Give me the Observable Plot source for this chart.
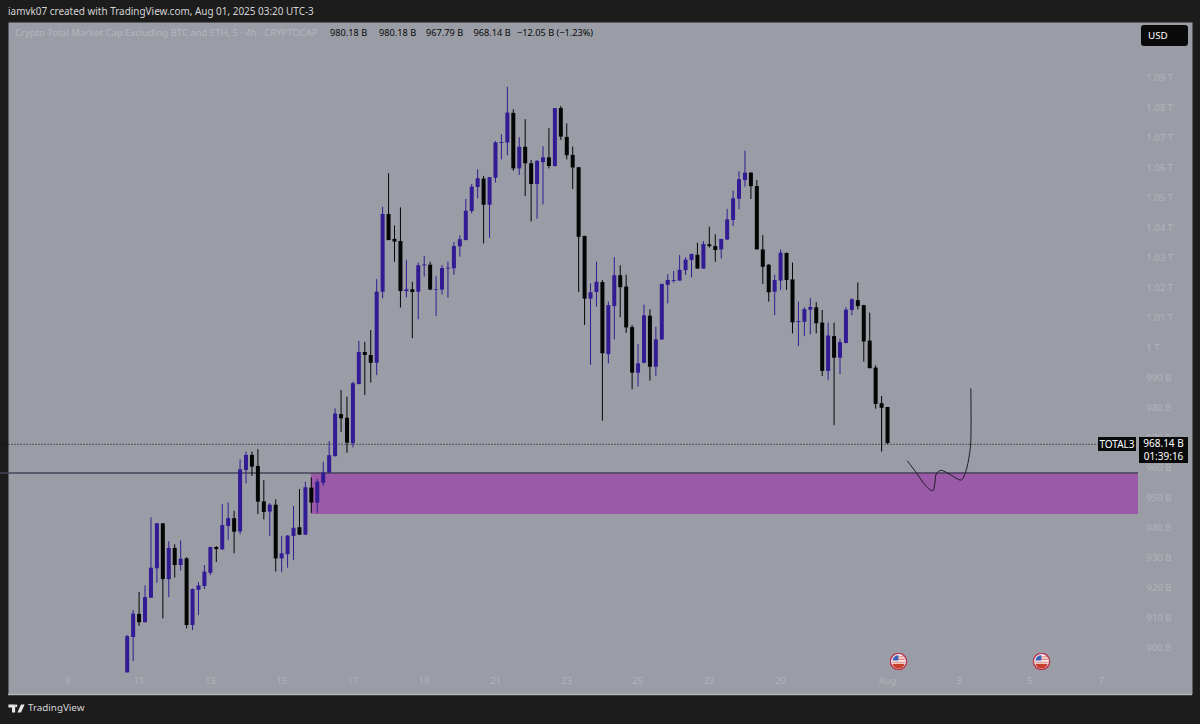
<!DOCTYPE html>
<html>
<head>
<meta charset="utf-8">
<script src="https://cdn.jsdelivr.net/npm/d3@7"></script>
<script src="https://cdn.jsdelivr.net/npm/@observablehq/plot@0.6"></script>
<style>
html,body{margin:0;padding:0;background:#1c1c1c;width:1200px;height:724px;overflow:hidden}
#wrap{position:relative;width:1200px;height:724px;font-family:"Noto Sans",sans-serif}
#wrap svg{display:block}
.t{position:absolute;white-space:nowrap;line-height:1}
.tag{position:absolute;background:#0a0a0a;color:#fff;font-size:10px;text-align:center;box-sizing:border-box}
</style>
</head>
<body>
<div id="wrap"></div>
<script>
const opens=[891.7,903.5,911.2,908.4,916.6,926.4,941.4,922.8,933.2,927.5,929.7,907.5,919.2,920.5,924.9,933.5,932.7,940.5,943.1,938.7,959.2,964.2,960.5,948.7,945.3,947.6,929.7,931.1,937.2,940.1,937.6,953.3,948.3,954.9,958.3,963.8,977.8,976.6,968.1,987.8,998.5,997.5,994.9,1018.6,1044.5,1036.2,1035.5,1018.8,1019.4,1018.6,1027.4,1027.6,1019.3,1019.3,1026.3,1026.4,1033.7,1035.8,1045.5,1053.5,1056.3,1047.6,1056.6,1068.2,1068.3,1078.2,1059.7,1066.9,1061.4,1054.5,1061.8,1063.4,1060.5,1079.8,1070.2,1064.2,1060.1,1037.2,1016.3,1018.5,1021.8,997.8,1013.8,1024.1,1020.3,1006.8,991.6,994.9,1010.6,993.6,1002.7,1020.9,1022.2,1022.3,1025.8,1029.2,1030.9,1026.3,1034.4,1033.8,1032.7,1036.0,1042.5,1049.6,1055.8,1058.3,1053.8,1032.7,1027.6,1018.6,1022.3,1031.5,1022.7,1008.5,1008.6,1012.6,1013.4,1008.3,992.2,1003.8,996.6,1001.5,1012.5,1015.8,1014.1,1002.3,993.3,981.4,980.18];
const highs=[904.2,912.5,918.5,920.7,943.4,941.4,941.4,935.4,934.4,935.7,930.1,919.7,921.8,927.5,933.6,933.8,947.8,948.3,945.6,962.7,965.2,965.3,966.1,955.8,948.1,949.4,937.2,937.5,947.2,952.8,955.3,956.7,956.1,961.9,968.8,979.7,985.8,983.6,988.6,1002.2,1001.9,1005.8,1022.8,1046.9,1058.1,1040.7,1046.7,1029.2,1021.9,1028.3,1030.5,1028.6,1023.8,1027.5,1028.6,1035.1,1037.4,1049.5,1054.5,1059.4,1057.2,1056.8,1068.8,1071.1,1086.9,1079.4,1070.1,1076.1,1062.5,1062.5,1067.1,1073.1,1079.8,1080.5,1074.7,1067.0,1060.1,1037.2,1021.4,1028.6,1022.5,1015.3,1030.1,1027.4,1024.3,1007.5,1001.1,1014.3,1012.7,1006.9,1021.2,1024.5,1025.5,1030.8,1030.1,1031.2,1034.9,1035.5,1040.3,1037.7,1036.2,1046.2,1052.3,1058.8,1065.6,1058.4,1055.8,1037.5,1027.8,1024.3,1032.7,1031.7,1028.3,1015.3,1013.4,1016.5,1015.1,1012.5,1008.3,1008.3,1002.9,1013.4,1016.4,1021.7,1014.2,1011.6,994.1,983.8,980.18];
const lows=[891.7,895.5,907.2,908.4,916.6,921.6,909.7,916.8,923.3,925.6,906.4,905.8,910.8,919.5,924.1,928.5,932.6,935.8,931.4,937.7,954.7,957.2,944.5,942.7,937.2,925.3,925.1,926.6,929.2,937.5,937.5,944.9,944.9,953.8,958.1,963.6,971.9,964.9,966.7,987.8,984.2,988.3,990.8,1016.4,1035.8,1028.6,1013.3,1016.7,1003.1,1009.4,1023.6,1019.2,1010.5,1017.7,1016.6,1024.2,1030.3,1035.8,1044.7,1049.7,1034.7,1036.6,1055.0,1062.7,1064.1,1058.9,1057.5,1050.5,1042.0,1042.9,1047.7,1059.7,1060.3,1069.2,1062.7,1052.8,1018.5,1007.5,994.2,1013.6,975.6,994.7,1002.7,1010.1,1004.9,986.1,987.0,994.7,989.0,990.5,1002.5,1014.7,1021.6,1022.3,1024.2,1023.4,1026.3,1026.3,1033.3,1028.6,1029.7,1035.8,1040.5,1046.1,1053.6,1049.5,1032.7,1021.2,1015.3,1010.8,1019.2,1019.2,1004.7,1000.5,1003.8,1004.4,1004.7,990.5,989.2,974.1,991.1,1001.4,1010.8,1012.7,995.3,993.1,979.6,965.3,967.79];
const closes=[903.8,911.3,908.4,916.8,926.6,941.4,922.8,933.2,927.5,929.6,907.5,919.5,920.7,925.3,933.5,932.8,940.8,943.1,938.6,959.4,964.2,960.3,948.6,945.2,947.6,929.7,931.4,937.3,939.9,937.6,953.4,948.3,955.3,958.3,964.1,978.0,976.4,968.3,988.1,998.5,997.5,994.9,1018.6,1044.5,1035.8,1035.3,1018.8,1019.4,1018.5,1027.4,1027.7,1019.3,1019.5,1026.5,1026.6,1033.8,1036.1,1045.6,1053.6,1056.4,1047.6,1056.8,1068.4,1068.5,1078.3,1059.7,1066.9,1061.4,1054.5,1062.2,1063.4,1060.5,1079.8,1070.3,1064.1,1060.0,1036.9,1016.3,1018.4,1021.9,998.1,1014.1,1024.1,1020.1,1006.7,991.6,994.7,1010.7,993.6,1002.7,1021.2,1022.5,1022.5,1025.9,1029.3,1031.2,1026.3,1034.5,1033.8,1032.5,1036.2,1042.7,1049.7,1056.1,1058.3,1053.8,1032.7,1026.9,1018.4,1022.5,1031.6,1022.5,1008.4,1008.8,1012.8,1013.5,1008.1,992.2,1004.0,996.6,1001.8,1012.6,1016.1,1013.8,1002.0,993.1,981.2,979.9,968.14];

const dayTickLabels=["9","11","13","15","17","19","21","23","25","27","29","Aug","3","5","7"];
const dayTickDates=["2025-07-09","2025-07-11","2025-07-13","2025-07-15","2025-07-17","2025-07-19","2025-07-21","2025-07-23","2025-07-25","2025-07-27","2025-07-29","2025-08-01","2025-08-03","2025-08-05","2025-08-07"];
const priceTicks=[900,910,920,930,940,950,960,970,980,990,1000,1010,1020,1030,1040,1050,1060,1070,1080,1090];
const priceTickLabels=["900 B","910 B","920 B","930 B","940 B","950 B","960 B","970 B","980 B","990 B","1 T","1.01 T","1.02 T","1.03 T","1.04 T","1.05 T","1.06 T","1.07 T","1.08 T","1.09 T"];

const sketchDays=[0.561,0.833,1.066,1.271,1.327,1.366,1.487,1.675,1.908,2.068,2.189,2.301,2.337,2.337];
const sketchPrices=[962.3,958.0,954.2,952.4,954.7,958.0,959.2,958.4,956.7,956.0,958.6,964.7,969.2,986.4];

const zoneTop=958.33, zoneBottom=944.5, lastPrice=967.9;
const flagDates=["2025-08-01T07:24Z","2025-08-05T07:41Z"];
const flagPrice=895.5;

const firstBar=Date.UTC(2025,6,10,16);
const bars=opens.map((o,i)=>({t:new Date(firstBar+i*4*36e5),o,h:highs[i],l:lows[i],c:closes[i],up:closes[i]>=o}));
const aug1=Date.UTC(2025,7,1);
const sketch=sketchDays.map((d,i)=>({t:new Date(aug1+d*864e5),p:sketchPrices[i]}));
const plotEnd=new Date("2025-08-08T01:00Z");
const dotEnd=new Date("2025-08-06T22:00Z");
const zoneStart=bars[31].t;

const BULL="#321b94", BEAR="#050505", PANEL="#9a9da5", AXIS="#b1b4bb";

const flagSvg='data:image/svg+xml;utf8,'+encodeURIComponent(
'<svg xmlns="http://www.w3.org/2000/svg" width="20" height="20" viewBox="0 0 20 20">'+
'<circle cx="10" cy="10" r="9" fill="#f4f4f6" stroke="#b8344f" stroke-width="1.6"/>'+
'<path d="M3.2 12.6h13.6a7 7 0 0 1-13.6 0z" fill="#c9402e"/>'+
'<path d="M3 10.2h14v1h-14z" fill="#d9534a"/>'+
'<path d="M3.2 9a7 7 0 0 1 6.8-6v6z" fill="#3d5fb5"/>'+
'<path d="M10 4.4h6v1h-6zM10 7h7v1h-7z" fill="#d9534a"/></svg>');

const chart=Plot.plot({
  width:1200,height:724,
  marginTop:22,marginBottom:30,marginLeft:8,marginRight:8,
  style:{background:"transparent",overflow:"visible"},
  x:{type:"utc",domain:[new Date("2025-07-07T08:04Z"),new Date("2025-08-09T13:22Z")],axis:null},
  y:{domain:[884.5,1108.5],axis:null},
  marks:[
    Plot.frame({fill:PANEL,stroke:null}),
    Plot.ruleX(dayTickDates.map(d=>new Date(d)),{stroke:"#ffffff",strokeOpacity:0.03}),
    Plot.ruleY([884.5],{stroke:"#b4b6bb",strokeWidth:1.5}),
    Plot.rect([{x1:zoneStart,x2:plotEnd,y1:zoneBottom,y2:zoneTop}],{x1:"x1",x2:"x2",y1:"y1",y2:"y2",fill:"#9b5aa8"}),
    Plot.ruleY([zoneTop],{x2:plotEnd,stroke:"#46445a",strokeWidth:1.4}),
    Plot.ruleY([lastPrice],{x2:dotEnd,stroke:"#111",strokeWidth:1,strokeDasharray:"1,2"}),
    Plot.ruleX(bars,{x:"t",y1:"l",y2:"h",stroke:d=>d.up?BULL:BEAR,strokeWidth:1}),
    Plot.ruleX(bars,{x:"t",y1:"o",y2:"c",stroke:d=>d.up?BULL:BEAR,strokeWidth:4}),
    Plot.line(sketch,{x:"t",y:"p",curve:"catmull-rom",stroke:"#1d1d24",strokeWidth:1}),
    Plot.image(flagDates.map(d=>new Date(d)),{x:d=>d,y:()=>flagPrice,src:()=>flagSvg,width:18,height:18}),
    Plot.text(priceTicks,{y:d=>d,text:(d,i)=>priceTickLabels[i],frameAnchor:"right",dx:-46,textAnchor:"start",fill:AXIS,fontSize:9.5,fontFamily:"Noto Sans"}),
    Plot.text(dayTickDates,{x:d=>new Date(d),text:(d,i)=>dayTickLabels[i],frameAnchor:"bottom",dy:-11,fill:AXIS,fontSize:9.5,fontFamily:"Noto Sans"})
  ]
});
const wrap=document.getElementById("wrap");
wrap.appendChild(chart);

function addText(s,x,y,size,color,extra){
  const e=document.createElement("div");e.className="t";e.textContent=s;
  e.style.cssText+=`left:${x}px;top:${y}px;font-size:${size}px;color:${color};${extra||""}`;
  wrap.appendChild(e);return e;
}
addText("iamvk07 created with TradingView.com, Aug 01, 2025 03:20 UTC-3",8,7,9.95,"#d4d4d4");
addText("Crypto Total Market Cap Excluding BTC and ETH, 5 · 4h · CRYPTOCAP",15,28,9.5,"#b4b7be");
const ohlcLabels=["980.18 B","980.18 B","967.79 B","968.14 B"];
const ohlcX=[330,379,426,473.5];
ohlcLabels.forEach((s,i)=>addText(s,ohlcX[i],28,9.2,"#0a0a0a"));
addText("−12.05 B (−1.23%)",517,28,9.2,"#0a0a0a");
addText("TradingView",28,703,9.8,"#d6d6d6");

function addTag(lines,l,t,w,h,extra){
  const e=document.createElement("div");e.className="tag";
  e.style.cssText+=`left:${l}px;top:${t}px;width:${w}px;height:${h}px;line-height:${h/lines.length}px;${extra||""}`;
  e.innerHTML=lines.join("<br>");wrap.appendChild(e);
}
addTag(["TOTAL3"],1098,437,38,14);
addTag(["968.14 B","01:39:16"],1139,437,49,26);
addTag(["USD"],1141,25,47,21,"border-radius:3px;text-align:left;padding-left:7px;font-size:9.8px;");

const logo=document.createElementNS("http://www.w3.org/2000/svg","svg");
logo.setAttribute("width","17");logo.setAttribute("height","9");logo.setAttribute("viewBox","0 0 36 20");
logo.style.cssText="position:absolute;left:8px;top:704px";
logo.innerHTML='<path fill="#e6e6e6" d="M0 1h15v18H8V8H0zM17 7a3 3 0 1 0 0-6 3 3 0 0 0 0 6zM28 1h8l-8 18h-8z"/>';
wrap.appendChild(logo);
</script>
</body>
</html>
